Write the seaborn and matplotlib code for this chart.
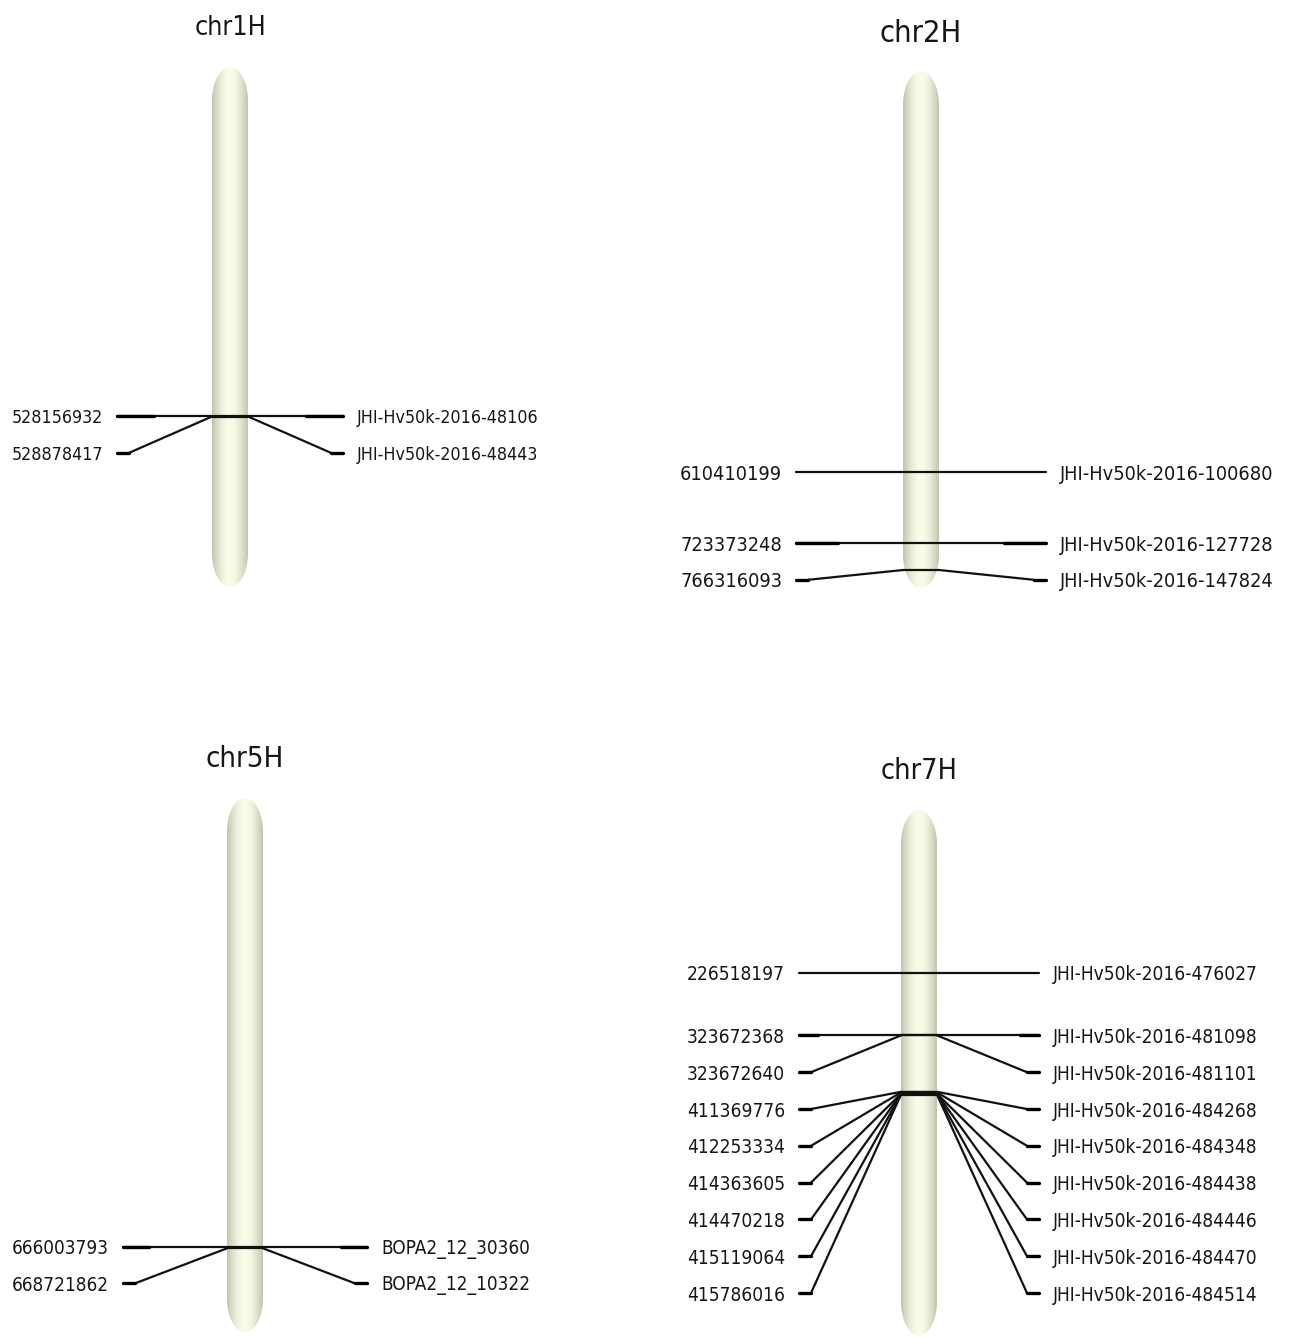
import numpy as np
import pandas as pd
import matplotlib
matplotlib.use("Agg")
import matplotlib.pyplot as plt
from matplotlib import font_manager
from matplotlib.font_manager import FontProperties
from matplotlib.path import Path
from matplotlib.patches import PathPatch
import seaborn as sns

# ---- map data -------------------------------------------------------------
chromosomes = ["chr1H", "chr2H", "chr5H", "chr7H"]
chrom_len_mb = [773, 768, 772, 764]

chr1H_pos = [528156932, 528878417]
chr1H_markers = ["JHI-Hv50k-2016-48106", "JHI-Hv50k-2016-48443"]

chr2H_pos = [610410199, 723373248, 766316093]
chr2H_markers = ["JHI-Hv50k-2016-100680", "JHI-Hv50k-2016-127728",
                 "JHI-Hv50k-2016-147824"]

chr5H_pos = [666003793, 668721862]
chr5H_markers = ["BOPA2_12_30360", "BOPA2_12_10322"]

chr7H_pos = [226518197, 323672368, 323672640, 411369776, 412253334,
             414363605, 414470218, 415119064, 415786016]
chr7H_markers = ["JHI-Hv50k-2016-476027", "JHI-Hv50k-2016-481098",
                 "JHI-Hv50k-2016-481101", "JHI-Hv50k-2016-484268",
                 "JHI-Hv50k-2016-484348", "JHI-Hv50k-2016-484438",
                 "JHI-Hv50k-2016-484446", "JHI-Hv50k-2016-484470",
                 "JHI-Hv50k-2016-484514"]

positions = [chr1H_pos, chr2H_pos, chr5H_pos, chr7H_pos]
markers = [chr1H_markers, chr2H_markers, chr5H_markers, chr7H_markers]

# ---- page layout (pixels) -------------------------------------------------
W, H = 1298, 1337
panel_layout = [
    dict(cx=230, top=84.0, scale=0.6287, span=113, thick=37, title_y=28,
         label_w=91, title_w=72),
    dict(cx=921, top=88.3, scale=0.6286, span=125, thick=42, title_y=33,
         label_w=102, title_w=82),
    dict(cx=245, top=815.0, scale=0.6480, span=122, thick=26, title_y=759,
         label_w=97, title_w=78),
    dict(cx=919, top=827.3, scale=0.6430, span=120, thick=19, title_y=771,
         label_w=98, title_w=77),
]
HALF_W = 18      # half width of the chromosome bar
TIP_EXT = 17     # rounded end beyond the first/last base
CAP_H = 34       # vertical semi-axis of the rounded ends
STUB = 12        # horizontal stub next to a shifted label
LABEL_GAP = 14
LABEL_STEP = 36.8

EDGE_RGB = np.array([192, 194, 172]) / 255
MID_RGB = np.array([250, 251, 232]) / 255

sns.set_theme(style="white")


def narrow_font():
    """Pick the narrowest upright regular sans face that is installed."""
    best = None
    for f in font_manager.fontManager.ttflist:
        st = f.stretch
        if isinstance(st, str):
            st = font_manager.stretch_dict.get(st, 500)
        if f.style != "normal" or f.weight not in (400, "normal", "regular"):
            continue
        if "Mono" in f.name or "Serif" in f.name or "CJK" in f.name:
            continue
        if best is None or st < best[0]:
            best = (st, f)
    if best is not None and best[0] < 500:
        return FontProperties(fname=best[1].fname)
    return FontProperties(family="Liberation Sans")


base_font = narrow_font()
plt.rcParams["font.family"] = ["Liberation Sans", "DejaVu Sans"]

fig = plt.figure(figsize=(W / 100, H / 100), dpi=100)
fig.patch.set_facecolor("white")
renderer = fig.canvas.get_renderer()


def sized_font(text, width_px, ref_size=20):
    probe = fig.text(0, 0, text, fontproperties=base_font, fontsize=ref_size)
    w = probe.get_window_extent(renderer).width
    probe.remove()
    fp = base_font.copy()
    fp.set_size(ref_size * width_px / w)
    return fp


def chrom_path(length, scale):
    ext = TIP_EXT / scale
    cap = CAP_H / scale
    yc_top = -ext + cap
    yc_bot = length + ext - cap
    th = np.linspace(np.pi, 0, 80)
    top = np.column_stack([HALF_W * np.cos(th), yc_top - cap * np.sin(th)])
    th2 = np.linspace(0, -np.pi, 80)
    bot = np.column_stack([HALF_W * np.cos(th2), yc_bot - cap * np.sin(th2)])
    verts = np.vstack([top, bot, top[:1]])
    codes = [Path.MOVETO] + [Path.LINETO] * (len(verts) - 2) + [Path.CLOSEPOLY]
    return Path(verts, codes)


for k, chrom in enumerate(chromosomes):
    lay = panel_layout[k]
    cx, top, s, span = lay["cx"], lay["top"], lay["scale"], lay["span"]
    length = chrom_len_mb[k]
    label_font = sized_font("0" * 9, lay["label_w"])
    title_font = sized_font(chrom, lay["title_w"])

    ax = fig.add_axes([0, 0, 1, 1])
    ax.patch.set_alpha(0)

    # chromosome body with a horizontal shading
    path = chrom_path(length, s)
    body = PathPatch(path, facecolor="none", edgecolor="none",
                     transform=ax.transData)
    ax.add_patch(body)
    t = np.linspace(-1, 1, 256)
    w = np.cos(np.pi * t / 2) ** 0.9
    grad = EDGE_RGB[None, :] + (MID_RGB - EDGE_RGB)[None, :] * w[:, None]
    img = np.repeat(grad[None, :, :], 2, axis=0)
    ext = TIP_EXT / s
    im = ax.imshow(img, extent=[-HALF_W, HALF_W, length + ext, -ext],
                   aspect="auto", interpolation="bilinear", zorder=1)
    im.set_clip_path(body)

    # marker and label positions (Mb)
    pos_mb = np.array(positions[k]) / 1e6
    step = LABEL_STEP / s
    lab_mb = []
    for p in pos_mb:
        lab_mb.append(p if not lab_mb else max(p, lab_mb[-1] + step))
    lab_mb = np.array(lab_mb)
    shifted = ~np.isclose(lab_mb, pos_mb)

    thin, heavy = [], []
    seg = 0
    for i, (p, q) in enumerate(zip(pos_mb, lab_mb)):
        if shifted[i]:
            for sign in (-1, 1):
                heavy.append(pd.DataFrame({"x": [sign * span, sign * (span - STUB)],
                                           "y": [q, q], "seg": seg})); seg += 1
                thin.append(pd.DataFrame({"x": [sign * (span - STUB), sign * HALF_W],
                                          "y": [q, p], "seg": seg})); seg += 1
            thin.append(pd.DataFrame({"x": [-HALF_W, HALF_W], "y": [p, p],
                                      "seg": seg})); seg += 1
        else:
            thin.append(pd.DataFrame({"x": [-span, span], "y": [p, p],
                                      "seg": seg})); seg += 1
            if i + 1 < len(pos_mb) and shifted[i + 1]:
                for sign in (-1, 1):
                    heavy.append(pd.DataFrame(
                        {"x": [sign * span, sign * (span - lay["thick"])],
                         "y": [p, p], "seg": seg})); seg += 1

    sns.lineplot(data=pd.concat(thin), x="x", y="y", units="seg",
                 estimator=None, sort=False, color="#111111", lw=1.6,
                 legend=False, ax=ax, zorder=3)
    if heavy:
        sns.lineplot(data=pd.concat(heavy), x="x", y="y", units="seg",
                     estimator=None, sort=False, color="black", lw=2.4,
                     legend=False, ax=ax, zorder=3)

    # labels
    for p_bp, name, q in zip(positions[k], markers[k], lab_mb):
        ax.text(-span - LABEL_GAP, q, str(p_bp), ha="right",
                va="center_baseline", fontproperties=label_font,
                color="#161616")
        ax.text(span + LABEL_GAP, q, name, ha="left",
                va="center_baseline", fontproperties=label_font,
                color="#161616")

    ax.text(0, (lay["title_y"] - top) / s, chrom, ha="center",
            va="center", fontproperties=title_font, color="#161616")

    ax.set_xlim(-cx, W - cx)
    ax.set_ylim((H - top) / s, (0 - top) / s)
    ax.set_axis_off()

fig.savefig("out.png", dpi=100, facecolor="white")
